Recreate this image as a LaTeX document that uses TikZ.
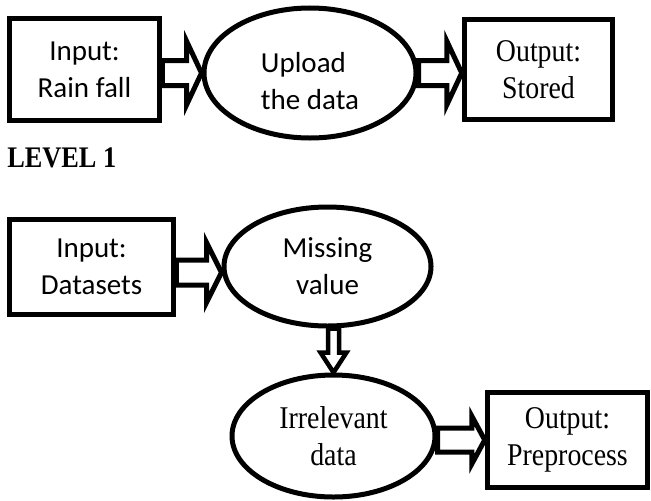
\documentclass[tikz,border=0pt]{standalone}
\usepackage{fontspec}
\usetikzlibrary{shapes.geometric,calc,backgrounds}
\newfontfamily\calfont{Carlito}
\newfontfamily\timesfont{Liberation Serif}[FakeStretch=0.88]

\tikzset{
  flow shaft/.store in=\flowshaft, flow shaft=2.5mm,
  flow head/.store in=\flowhead, flow head=6.4mm,
  flow len/.store in=\flowlen, flow len=3mm,
  flowarrow/.style={draw, fill=white, line width=1mm, line join=miter,
    to path={
      ($(\tikztostart)!\flowshaft!90:(\tikztotarget)$)
      -- ($(\tikztotarget)!\flowlen!(\tikztostart)!\flowshaft!90:(\tikztotarget)$)
      -- ($(\tikztotarget)!\flowlen!(\tikztostart)!\flowhead!90:(\tikztotarget)$)
      -- (\tikztotarget)
      -- ($(\tikztotarget)!\flowlen!(\tikztostart)!\flowhead!-90:(\tikztotarget)$)
      -- ($(\tikztotarget)!\flowlen!(\tikztostart)!\flowshaft!-90:(\tikztotarget)$)
      -- ($(\tikztostart)!\flowshaft!-90:(\tikztotarget)$)
      -- cycle}}
}

\begin{document}
\begin{tikzpicture}[x=0.2mm, y=-0.2mm,
    procbox/.style={draw, fill=white, line width=1mm, inner sep=0pt, align=center},
    procell/.style={ellipse, draw, fill=white, line width=1mm, inner sep=0pt, align=center},
    calibri/.style={font=\calfont\fontsize{16.5}{21}\selectfont},
    times/.style={font=\timesfont\fontsize{18}{21}\selectfont}]
      \useasboundingbox (0,0) rectangle (651,500);

      \node[procbox, calibri, minimum width=30.1mm, minimum height=20.5mm] (rain) at (84.5,69.5) {Input:\\Rain fall};
      \node[procell, calibri, minimum width=42.4mm, minimum height=26mm, align=left, text height=14.5mm] (upload) at (310,73) {Upload\\the data};
      \node[procbox, times, minimum width=29.7mm, minimum height=20.1mm] (stored) at (538.5,69.5) {Output:\\Stored};

      \node[anchor=base west, inner sep=0pt, font=\timesfont\bfseries\fontsize{17}{20}\selectfont] (level) at (7,167) {LEVEL 1};

      \node[procbox, calibri, minimum width=32.9mm, minimum height=19.1mm] (datasets) at (91.5,267) {Input:\\Datasets};
      \node[procell, calibri, minimum width=41.4mm, minimum height=23.8mm] (missing) at (327.5,266.5) {Missing\\value};
      \node[procell, times, minimum width=40.6mm, minimum height=24.4mm] (irrel) at (333.5,436) {Irrelevant\\data};
      \node[procbox, times, minimum width=32.1mm, minimum height=19.1mm] (preproc) at (567.5,440) {Output:\\Preprocess};

      \begin{scope}[on background layer]
        \draw[flowarrow] (rain.east |- upload.west) to (upload.west);
        \draw[flowarrow] (upload.east) to (upload.east -| stored.west);
        \draw[flowarrow, flow head=6mm] ([yshift=-1.2mm]datasets.east |- missing.west) to ([yshift=-1.2mm]missing.west);
        \draw[flowarrow, line width=0.9mm, flow shaft=1.1mm, flow head=2.6mm, flow len=4mm] (irrel.north |- missing.south) to (irrel.north);
        \draw[flowarrow, flow shaft=2.4mm, flow head=4.8mm, flow len=2.6mm] (irrel.east |- preproc.west) to (preproc.west);
      \end{scope}
    \end{tikzpicture}
\end{document}
